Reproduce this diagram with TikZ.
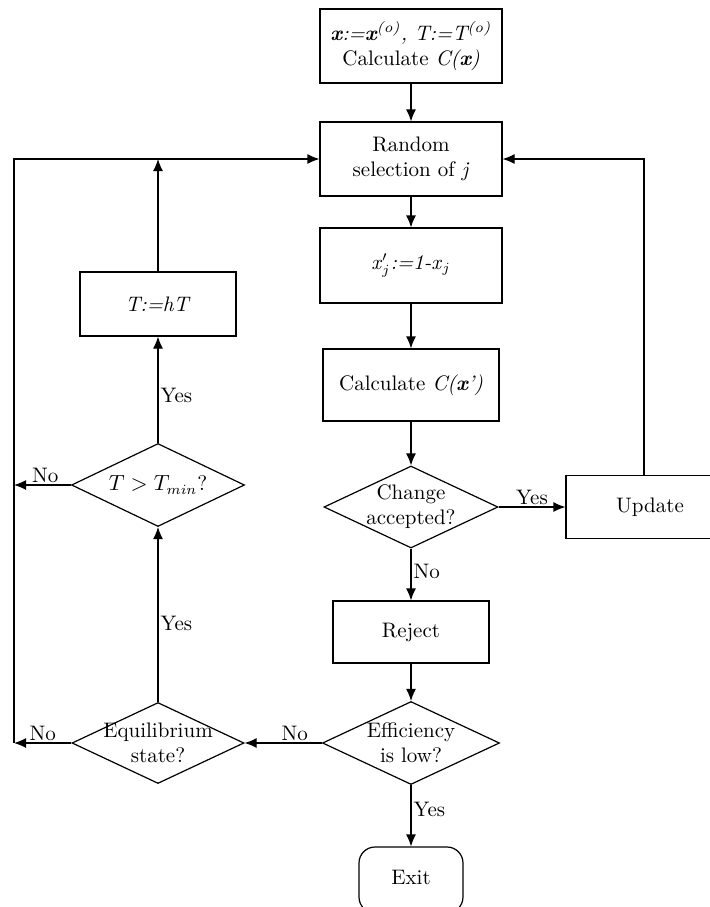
\documentclass[tikz,border=0pt]{standalone}
\usetikzlibrary{shapes.geometric,arrows.meta}

\tikzset{
    blk/.style={draw, rectangle, semithick, align=center, inner sep=1pt},
    dec/.style={draw, diamond, aspect=2.1, semithick, align=center, inner sep=-3pt},
    arr/.style={semithick, -{Latex[length=6pt,width=5pt]}},
    lbl/.style={inner sep=1pt}
}

\begin{document}
\begin{tikzpicture}[x=0.5pt, y=-0.5pt, font=\fontsize{10.5}{12.5}\selectfont]
    \useasboundingbox (0,0) rectangle (710,907);
    \clip (0,0) rectangle (710,907);

    % main column
    \node [blk, minimum width=91pt, minimum height=37pt] (init) at (411,46)
        {\textit{\textbf{x}:=\textbf{x}\textsuperscript{(o)}, T:=T\textsuperscript{(o)}}\\Calculate \textit{C(\textbf{x})}};
    \node [blk, minimum width=91pt, minimum height=37pt] (rand) at (411,159) {Random\\selection of \textit{j}};
    \node [blk, minimum width=91pt, minimum height=37.5pt] (flip) at (411,265.5) {\textit{x}$'_j$\textit{:=1-x}$_j$};
    \node [blk, minimum width=88pt, minimum height=36pt] (calc) at (411,385) {Calculate \textit{C(\textbf{x}')}};
    \node [dec, minimum width=87pt, minimum height=41pt] (acc) at (411,507) {Change\\accepted?};
    \node [blk, minimum width=84pt, minimum height=31.5pt] (upd) at (650,507) {Update};
    \node [blk, minimum width=78pt, minimum height=31pt] (rej) at (411,632) {Reject};
    \node [dec, minimum width=88.5pt, minimum height=41.5pt] (eff) at (411,743) {Efficiency\\is low?};
    \node [draw, semithick, rounded corners=8pt, minimum width=52pt, minimum height=33pt] (exit) at (411,880) {};
    \node (exittxt) at (411,877) {Exit};

    % left column
    \node [dec, minimum width=86pt, minimum height=40.5pt] (equ) at (158,743) {Equilibrium\\state?};
    \node [dec, minimum width=86.5pt, minimum height=41.5pt] (tmin) at (158,485) {$T > T_{min}$?};
    \node [blk, minimum width=78pt, minimum height=32pt] (hT) at (158,304) {\textit{T:=hT}};

    \coordinate (l1) at (14,743);
    \coordinate (l2) at (14,485);
    \coordinate (l0) at (14,159);

    % connectors
    \draw [arr] (init) -- (rand);
    \draw [arr] (rand) -- (flip);
    \draw [arr] (flip) -- (calc);
    \draw [arr] (calc) -- (acc);
    \draw [arr] (acc) -- node[lbl, above] {Yes} (upd);
    \draw [arr] (upd.north -| 644,0) |- (rand.east);
    \draw [arr] (acc) -- node[lbl, right, pos=0.45] {No} (rej);
    \draw [arr] (rej) -- (eff);
    \draw [arr] (eff) -- node[lbl, above, pos=0.35] {No} (equ);
    \draw [arr] (eff) -- node[lbl, right, pos=0.4] {Yes} (exit);
    \draw [arr] (equ) -- node[lbl, above] {No} (l1);
    \draw [arr] (equ) -- node[lbl, right, pos=0.45] {Yes} (tmin);
    \draw [arr] (tmin) -- node[lbl, above, pos=0.45] {No} (l2);
    \draw [arr] (tmin) -- node[lbl, right, pos=0.45] {Yes} (hT);
    \draw [arr] (hT) -- (hT |- rand.west);
    \draw [arr] (l1) -- (l0) -- (rand.west);
\end{tikzpicture}
\end{document}
